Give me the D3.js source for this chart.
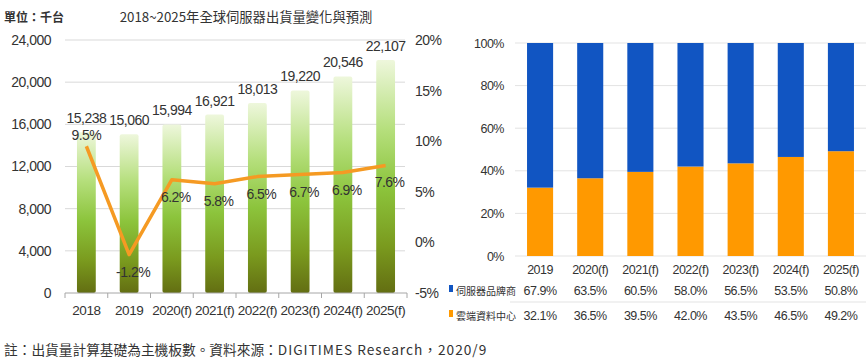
<!DOCTYPE html>
<html>
<meta charset="utf-8">
<style>
    body { margin: 0; background: #fff; }
    svg { display: block; }
    text { font-family: "Liberation Sans", sans-serif; fill: #333; }
    .num { letter-spacing: -0.5px; }
    .cjk { font-family: "Noto Sans CJK TC", sans-serif; letter-spacing: 0; }
</style>
<body>
<svg width="866" height="364"></svg>
<script src="https://d3js.org/d3.v7.min.js"></script>
<script>
    // left chart data
    let years = ["2018", "2019", "2020(f)", "2021(f)", "2022(f)", "2023(f)", "2024(f)", "2025(f)"];
    let shipments = [15238, 15060, 15994, 16921, 18013, 19220, 20546, 22107];
    let growth = [9.5, -1.2, 6.2, 5.8, 6.5, 6.7, 6.9, 7.6];
    let unitTicks = [0, 4000, 8000, 12000, 16000, 20000, 24000];
    let growthTicks = [-5, 0, 5, 10, 15, 20];

    // right chart data
    let shareYears = ["2019", "2020(f)", "2021(f)", "2022(f)", "2023(f)", "2024(f)", "2025(f)"];
    let brandShare = [67.9, 63.5, 60.5, 58.0, 56.5, 53.5, 50.8];
    let cloudShare = [32.1, 36.5, 39.5, 42.0, 43.5, 46.5, 49.2];
    let shareTicks = [0, 20, 40, 60, 80, 100];
    let seriesNames = ["伺服器品牌商", "雲端資料中心"];

    let svg = d3.select("svg");

    // ---------- left chart ----------
    let L = {left: 65, right: 407, top: 40, bottom: 293};

    let x = d3.scaleBand().domain(years).range([L.left, L.right]).paddingInner(0.56).paddingOuter(0.28);
    let y = d3.scaleLinear().domain([0, 24000]).range([L.bottom, L.top]);
    let y2 = d3.scaleLinear().domain([-5, 20]).range([L.bottom, L.top]);

    let grad = svg.append("defs").append("linearGradient")
        .attr("id", "barGrad")
        .attr("x1", 0).attr("y1", 0).attr("x2", 0).attr("y2", 1);
    grad.append("stop").attr("offset", "0%").attr("stop-color", "#eef7dc");
    grad.append("stop").attr("offset", "30%").attr("stop-color", "#b5df7c");
    grad.append("stop").attr("offset", "55%").attr("stop-color", "#8cc43c");
    grad.append("stop").attr("offset", "80%").attr("stop-color", "#7a9a1e");
    grad.append("stop").attr("offset", "100%").attr("stop-color", "#636e12");

    // grid
    svg.append("g")
        .selectAll("line")
        .data(unitTicks.slice(1))
        .enter().append("line")
        .attr("x1", L.left).attr("x2", L.right - 2)
        .attr("y1", d => y(d)).attr("y2", d => y(d))
        .attr("stroke", "#d9d9d9");

    svg.append("g")
        .attr("transform", "translate(" + (L.left - 11) + ",0)")
        .call(d3.axisLeft(y).tickValues(unitTicks).tickSize(0).tickFormat(d3.format(",")))
        .call(g => g.select(".domain").remove())
        .selectAll("text").attr("class", "num").attr("font-size", 14).attr("fill", "#333");

    svg.append("g")
        .attr("transform", "translate(" + (L.right + 5) + ",0)")
        .call(d3.axisRight(y2).tickValues(growthTicks).tickSize(0).tickFormat(d => d + "%"))
        .call(g => g.select(".domain").remove())
        .selectAll("text").attr("class", "num").attr("font-size", 14).attr("fill", "#333");

    svg.append("g")
        .selectAll("rect")
        .data(shipments)
        .enter().append("rect")
        .attr("x", (d, i) => x(years[i]))
        .attr("y", d => y(d))
        .attr("width", x.bandwidth())
        .attr("height", d => L.bottom - y(d))
        .attr("rx", 2)
        .attr("fill", "url(#barGrad)");

    // x axis
    svg.append("g")
        .attr("transform", "translate(0," + L.bottom + ")")
        .call(d3.axisBottom(x).tickSize(0).tickPadding(12))
        .call(g => g.select(".domain").attr("stroke", "#a6a6a6").attr("d", "M" + L.left + ",0H" + L.right))
        .selectAll("text").attr("class", "num").attr("font-size", 13.5).attr("fill", "#222");

    svg.append("g")
        .selectAll("line")
        .data(years.concat([null]))
        .enter().append("line")
        .attr("x1", (d, i) => L.left + i * x.step())
        .attr("x2", (d, i) => L.left + i * x.step())
        .attr("y1", L.bottom).attr("y2", L.bottom + 5)
        .attr("stroke", "#a6a6a6");

    // bar values
    svg.append("g")
        .selectAll("text")
        .data(shipments)
        .enter().append("text")
        .attr("class", "num")
        .attr("x", (d, i) => x(years[i]) + x.bandwidth() / 2)
        .attr("y", d => y(d) - 9)
        .attr("text-anchor", "middle")
        .attr("font-size", 14)
        .attr("fill", "#222")
        .text(d3.format(","));

    // growth line
    let cx = (d, i) => x(years[i]) + x.bandwidth() / 2;
    svg.append("path")
        .datum(growth)
        .attr("fill", "none")
        .attr("stroke", "#f59a23")
        .attr("stroke-width", 3.5)
        .attr("stroke-linejoin", "round")
        .attr("d", d3.line().x(cx).y(d => y2(d)));

    svg.append("g")
        .selectAll("text")
        .data(growth)
        .enter().append("text")
        .attr("class", "num")
        .attr("x", (d, i) => cx(d, i) + (i === 0 ? 0 : 4))
        .attr("y", (d, i) => i === 0 ? y2(d) - 6 : y2(d) + 22)
        .attr("text-anchor", "middle")
        .attr("font-size", 14)
        .attr("fill", "#9a4a2c")
        .text(d => d.toFixed(1) + "%");

    svg.append("text")
        .attr("class", "cjk")
        .attr("x", 4).attr("y", 22)
        .attr("font-size", 12)
        .attr("font-weight", "bold")
        .attr("fill", "#222")
        .text("單位：千台");

    svg.append("text")
        .attr("class", "cjk")
        .attr("x", 246).attr("y", 22)
        .attr("text-anchor", "middle")
        .attr("font-size", 13.3)
        .attr("fill", "#222")
        .text("2018~2025年全球伺服器出貨量變化與預測");

    // ---------- right chart ----------
    let R = {left: 515, right: 866, top: 43, bottom: 256};

    let xr = d3.scaleBand().domain(shareYears).range([R.left, R.right]).paddingInner(0.48).paddingOuter(0.24);
    let yr = d3.scaleLinear().domain([0, 100]).range([R.bottom, R.top]);

    svg.append("g")
        .selectAll("line")
        .data(shareTicks)
        .enter().append("line")
        .attr("x1", R.left).attr("x2", R.right)
        .attr("y1", d => yr(d)).attr("y2", d => yr(d))
        .attr("stroke", "#e3e3e3");

    svg.append("g")
        .attr("transform", "translate(" + (R.left - 8) + ",0)")
        .call(d3.axisLeft(yr).tickValues(shareTicks).tickSize(0).tickFormat(d => d + "%"))
        .call(g => g.select(".domain").remove())
        .selectAll("text").attr("class", "num").attr("font-size", 12.5).attr("fill", "#333");

    svg.append("g")
        .selectAll("rect")
        .data(cloudShare)
        .enter().append("rect")
        .attr("x", (d, i) => xr(shareYears[i]))
        .attr("y", d => yr(d))
        .attr("width", xr.bandwidth())
        .attr("height", d => R.bottom - yr(d))
        .attr("fill", "#ff9900");

    svg.append("g")
        .selectAll("rect")
        .data(brandShare)
        .enter().append("rect")
        .attr("x", (d, i) => xr(shareYears[i]))
        .attr("y", (d, i) => yr(cloudShare[i] + d))
        .attr("width", xr.bandwidth())
        .attr("height", (d, i) => yr(cloudShare[i]) - yr(cloudShare[i] + d))
        .attr("fill", "#1155c2");

    svg.append("g")
        .attr("transform", "translate(0," + R.bottom + ")")
        .call(d3.axisBottom(xr).tickSize(0).tickPadding(9))
        .call(g => g.select(".domain").remove())
        .selectAll("text").attr("class", "num").attr("font-size", 12.5).attr("fill", "#222");

    // data table below
    let rows = [brandShare, cloudShare];
    let rowColors = ["#1155c2", "#ff9900"];
    let rowY = [295, 320];

    svg.append("line")
        .attr("x1", 510).attr("x2", R.right)
        .attr("y1", 302).attr("y2", 302)
        .attr("stroke", "#e3e3e3");

    rows.forEach(function (vals, r) {
        svg.append("rect")
            .attr("x", 449).attr("y", rowY[r] - 10)
            .attr("width", 4).attr("height", 7)
            .attr("fill", rowColors[r]);
        svg.append("text")
            .attr("class", "cjk")
            .attr("x", 456).attr("y", rowY[r])
            .attr("font-size", 10)
            .attr("fill", "#222")
            .text(seriesNames[r]);
        svg.append("g")
            .selectAll("text")
            .data(vals)
            .enter().append("text")
            .attr("class", "num")
            .attr("x", (d, i) => xr(shareYears[i]) + xr.bandwidth() / 2)
            .attr("y", rowY[r])
            .attr("text-anchor", "middle")
            .attr("font-size", 12.5)
            .attr("fill", "#222")
            .text(d => d.toFixed(1) + "%");
    });

    let note = svg.append("text")
        .attr("class", "cjk")
        .attr("x", 4).attr("y", 355)
        .attr("font-size", 13.7)
        .attr("fill", "#222");
    note.append("tspan").text("註：出貨量計算基礎為主機板數。資料來源：");
    note.append("tspan").attr("letter-spacing", "1px").text("DIGITIMES Research，2020/9");
</script>
</body>
</html>
